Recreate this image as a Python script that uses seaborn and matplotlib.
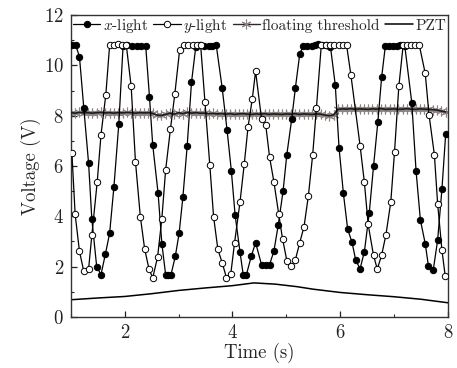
import matplotlib
matplotlib.use("Agg")
import matplotlib.pyplot as plt
import seaborn as sns
from matplotlib.ticker import MultipleLocator

# ---- data ----
x_t = [1.02, 1.09, 1.16, 1.24, 1.33, 1.39, 1.48, 1.56, 1.64, 1.72, 1.80, 1.89,
       1.97, 2.05, 2.13, 2.22, 2.30, 2.39, 2.46, 2.52, 2.62, 2.69, 2.76, 2.81,
       2.86, 2.94, 3.01, 3.08, 3.16, 3.24, 3.32, 3.40, 3.48, 3.56, 3.63, 3.70,
       3.81, 3.90, 3.98, 4.05, 4.14, 4.20, 4.26, 4.35, 4.43, 4.54, 4.62, 4.69,
       4.77, 4.85, 4.94, 5.01, 5.10, 5.17, 5.25, 5.31, 5.39, 5.47, 5.53, 5.59,
       5.66, 5.74, 5.82, 5.91, 5.98, 6.06, 6.14, 6.22, 6.29, 6.37, 6.45, 6.54,
       6.62, 6.70, 6.77, 6.84, 6.91, 6.98, 7.05, 7.11, 7.20, 7.33, 7.41, 7.49,
       7.58, 7.64, 7.73, 7.81, 7.89, 7.96]
x_v = [10.80, 10.80, 10.35, 8.32, 6.10, 3.88, 2.00, 1.68, 2.48, 3.32, 5.17, 7.65,
       10.78, 10.80, 10.76, 10.76, 10.76, 10.78, 8.75, 6.84, 4.92, 2.91, 1.68, 1.68,
       1.68, 2.41, 3.32, 4.75, 6.79, 9.32, 10.75, 10.80, 10.78, 10.76, 10.76, 10.80,
       9.10, 7.44, 5.81, 4.05, 2.59, 1.68, 1.68, 2.41, 2.95, 2.08, 2.08, 2.08,
       2.61, 3.64, 4.99, 6.45, 7.85, 9.12, 10.45, 10.76, 10.76, 10.78, 10.80, 10.85,
       10.80, 10.80, 10.75, 9.21, 6.72, 4.92, 3.48, 2.97, 2.25, 1.91, 2.59, 4.12,
       5.99, 7.75, 9.52, 10.78, 10.78, 10.78, 10.78, 10.80, 10.78, 8.52, 5.79, 3.85,
       2.91, 2.01, 1.88, 3.05, 5.08, 7.28]

y_t = [1.02, 1.08, 1.16, 1.24, 1.33, 1.39, 1.49, 1.56, 1.65, 1.72, 1.80, 1.87,
       1.95, 2.03, 2.12, 2.20, 2.29, 2.37, 2.45, 2.52, 2.61, 2.69, 2.76, 2.85,
       2.93, 3.02, 3.10, 3.18, 3.26, 3.35, 3.41, 3.49, 3.58, 3.65, 3.73, 3.81,
       3.89, 3.97, 4.04, 4.14, 4.22, 4.29, 4.37, 4.43, 4.54, 4.62, 4.69, 4.77,
       4.86, 4.93, 5.01, 5.09, 5.17, 5.25, 5.33, 5.41, 5.49, 5.56, 5.65, 5.74,
       5.82, 5.89, 5.97, 6.05, 6.12, 6.20, 6.37, 6.45, 6.52, 6.62, 6.69,
       6.77, 6.85, 6.94, 7.01, 7.09, 7.17, 7.24, 7.32, 7.39, 7.47, 7.58, 7.65,
       7.75, 7.81, 7.89, 7.95]
y_v = [6.51, 4.08, 2.61, 1.81, 1.91, 3.25, 5.37, 7.24, 8.84, 10.80, 10.80, 10.85,
       10.80, 10.80, 9.17, 6.17, 3.99, 2.71, 1.91, 1.55, 2.37, 3.91, 5.84, 7.48,
       8.85, 10.61, 10.80, 10.80, 10.80, 10.80, 10.80, 8.55, 6.04, 3.99, 2.68, 2.15,
       1.55, 1.71, 2.95, 4.55, 6.08, 7.55, 8.68, 9.77, 7.88, 7.61, 6.35, 5.37,
       4.08, 3.11, 2.24, 2.01, 2.28, 2.95, 3.59, 4.81, 6.44, 8.32, 10.80, 10.80,
       10.80, 10.80, 10.80, 10.80, 10.80, 9.61, 6.81, 5.35, 3.68, 2.44, 1.90,
       2.45, 3.26, 4.56, 6.57, 9.17, 10.80, 10.80, 10.80, 10.80, 10.80, 9.68, 8.04,
       6.44, 4.50, 2.65, 1.64]

thr_t = [1.00, 1.08, 1.16, 1.24, 1.32, 1.40, 1.48, 1.56, 1.64, 1.72, 1.80, 1.88,
         1.96, 2.04, 2.12, 2.20, 2.28, 2.36, 2.44, 2.52, 2.60, 2.68, 2.76, 2.84,
         2.92, 3.00, 3.08, 3.16, 3.24, 3.32, 3.40, 3.48, 3.56, 3.64, 3.72, 3.80,
         3.88, 3.96, 4.04, 4.12, 4.20, 4.28, 4.36, 4.44, 4.52, 4.60, 4.68, 4.76,
         4.84, 4.92, 5.00, 5.08, 5.16, 5.24, 5.32, 5.40, 5.48, 5.56, 5.64, 5.72,
         5.80, 5.88, 5.96, 6.04, 6.12, 6.20, 6.28, 6.36, 6.44, 6.52, 6.60, 6.68,
         6.76, 6.84, 6.92, 7.00, 7.08, 7.16, 7.24, 7.32, 7.40, 7.48, 7.56, 7.64,
         7.72, 7.80, 7.88, 7.96]
thr_v = [8.12, 8.10, 8.13, 8.11, 8.12, 8.10, 8.12, 8.13, 8.11, 8.12, 8.10, 8.12,
         8.11, 8.13, 8.12, 8.10, 8.12, 8.11, 8.12, 8.09, 8.02, 8.01, 8.05, 8.10,
         8.06, 8.12, 8.08, 8.13, 8.10, 8.12, 8.10, 8.10, 8.08, 8.09, 8.07, 8.08,
         8.06, 8.08, 8.05, 8.07, 8.08, 8.06, 8.05, 8.07, 8.06, 8.08, 8.05, 8.07,
         8.06, 8.05, 8.07, 8.06, 8.08, 8.05, 8.07, 8.06, 8.05, 8.07, 8.06, 8.02,
         8.00, 8.03, 8.25, 8.27, 8.26, 8.28, 8.25, 8.27, 8.26, 8.25, 8.27, 8.26,
         8.28, 8.25, 8.26, 8.27, 8.25, 8.26, 8.28, 8.26, 8.25, 8.27, 8.26, 8.25,
         8.24, 8.22, 8.18, 8.15]

pzt_t = [1.0, 1.5, 2.0, 2.5, 3.0, 3.5, 4.0, 4.4, 4.8, 5.2, 5.5, 6.0, 6.5, 7.0, 7.5, 8.0]
pzt_v = [0.68, 0.75, 0.81, 0.92, 1.05, 1.15, 1.24, 1.35, 1.30, 1.20, 1.10, 0.97,
         0.88, 0.80, 0.70, 0.56]

x_ticks = [2, 4, 6, 8]
y_ticks = [0, 2, 4, 6, 8, 10, 12]

# ---- style ----
sns.set_theme(style="ticks")
plt.rcParams["font.family"] = ["cmr10", "DejaVu Serif"]
plt.rcParams["mathtext.fontset"] = "cm"
plt.rcParams["axes.formatter.use_mathtext"] = True
plt.rcParams["axes.unicode_minus"] = False

fig = plt.figure(figsize=(4.57, 3.68), dpi=100)
ax = fig.add_axes([0.155, 0.139, 0.825, 0.820])

lw = 0.9
ms = 4.6
sns.lineplot(x=x_t, y=x_v, ax=ax, color="black", linewidth=lw, marker="o",
             markersize=ms, markerfacecolor="black", markeredgecolor="black",
             markeredgewidth=0.7, estimator=None, sort=False, label=r"$x$-light",
             zorder=4)
sns.lineplot(x=y_t, y=y_v, ax=ax, color="black", linewidth=lw, marker="o",
             markersize=ms, markerfacecolor="white", markeredgecolor="black",
             markeredgewidth=0.7, estimator=None, sort=False, label=r"$y$-light",
             zorder=5)
# threshold: grey asterisk markers with the dark trace drawn over them
sns.lineplot(x=thr_t, y=thr_v, ax=ax, color="#2a2a2a", linewidth=1.0,
             marker=(6, 2, 0), markersize=7, markeredgecolor="#8e8383",
             markeredgewidth=0.8, estimator=None, sort=False,
             label="floating threshold", zorder=2)
sns.lineplot(x=thr_t, y=thr_v, ax=ax, color="#1c1c1c", linewidth=1.2,
             estimator=None, sort=False, zorder=3, legend=False)
sns.lineplot(x=pzt_t, y=pzt_v, ax=ax, color="black", linewidth=1.1,
             estimator=None, sort=False, label="PZT")

ax.set_xlim(1, 8)
ax.set_ylim(0, 12)
ax.set_xticks(x_ticks)
ax.set_yticks(y_ticks)
ax.xaxis.set_minor_locator(MultipleLocator(1))
ax.yaxis.set_minor_locator(MultipleLocator(1))
ax.tick_params(axis="both", which="major", direction="in", length=4.5, width=0.9,
               labelsize=13.5, colors="#222222", pad=5)
ax.tick_params(axis="both", which="minor", direction="in", length=2.5, width=0.8)
for s in ax.spines.values():
    s.set_visible(True)
    s.set_linewidth(1.0)
    s.set_color("#333333")

ax.set_xlabel("Time (s)", fontsize=13.5, labelpad=1)
ax.set_ylabel("Voltage (V)", fontsize=13.5, labelpad=2)

handles, labels = ax.get_legend_handles_labels()
leg = ax.legend(handles[:4], labels[:4], loc="upper center",
                bbox_to_anchor=(0.5, 1.01), ncol=4,
                frameon=False, fontsize=11, handlelength=1.8, handletextpad=0.15,
                columnspacing=0.35, borderaxespad=0.1, borderpad=0.2)

fig.savefig("out.png", dpi=100)
